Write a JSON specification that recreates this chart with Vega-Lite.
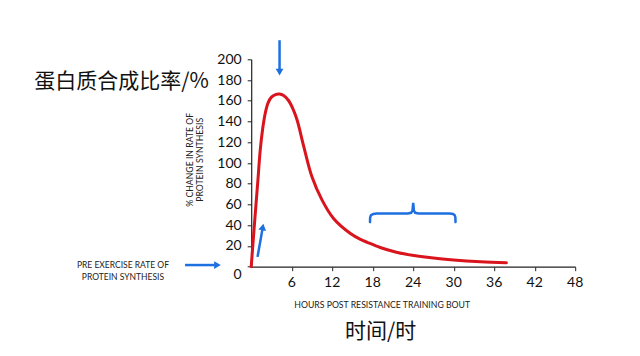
{
  "$schema": "https://vega.github.io/schema/vega-lite/v6.json",
  "width": 324,
  "height": 207.4,
  "autosize": {"type": "none"},
  "padding": {"left": 251.2, "top": 59.3, "right": 64.8, "bottom": 89.3},
  "background": "white",
  "config": {
    "view": {"stroke": null},
    "axis": {
      "grid": false,
      "domainColor": "#222",
      "tickColor": "#222",
      "labelColor": "#111",
      "labelFont": "Lato",
      "labelFontSize": 14,
      "titleFont": "Lato",
      "titleFontWeight": "normal",
      "titleColor": "#222",
      "titleFontSize": 8.7
    }
  },
  "datasets": {
    "curve": [
      {"h": 0, "v": 0}, {"h": 0.3, "v": 25.7}, {"h": 0.6, "v": 51}, {"h": 1.0, "v": 84},
      {"h": 1.33, "v": 112}, {"h": 1.7, "v": 133}, {"h": 2.08, "v": 148}, {"h": 2.5, "v": 158},
      {"h": 3.0, "v": 163.5}, {"h": 3.6, "v": 166}, {"h": 4.2, "v": 166.5}, {"h": 4.8, "v": 165},
      {"h": 5.5, "v": 160.5}, {"h": 6.2, "v": 152}, {"h": 6.8, "v": 141.4}, {"h": 7.8, "v": 115.6},
      {"h": 9.0, "v": 86.7}, {"h": 10.5, "v": 64.2}, {"h": 12.2, "v": 46.5}, {"h": 14.7, "v": 32},
      {"h": 16.2, "v": 26.3}, {"h": 17.2, "v": 23.5}, {"h": 19.1, "v": 18.5}, {"h": 21.5, "v": 14},
      {"h": 24.1, "v": 10.8}, {"h": 27, "v": 8.3}, {"h": 30, "v": 6.5}, {"h": 34, "v": 4.8},
      {"h": 37.8, "v": 3.7}
    ],
    "brace": [
      {"i": 1, "h": 17.6, "v": 43}, {"i": 2, "h": 17.62, "v": 47.5}, {"i": 3, "h": 17.75, "v": 49.7},
      {"i": 4, "h": 18.1, "v": 50.9}, {"i": 5, "h": 18.6, "v": 51.3}, {"i": 6, "h": 23.2, "v": 51.3},
      {"i": 7, "h": 23.7, "v": 52}, {"i": 8, "h": 23.9, "v": 54}, {"i": 9, "h": 24.0, "v": 61.5},
      {"i": 10, "h": 24.1, "v": 54}, {"i": 11, "h": 24.3, "v": 52}, {"i": 12, "h": 24.8, "v": 51.3},
      {"i": 13, "h": 29.4, "v": 51.3}, {"i": 14, "h": 29.9, "v": 50.9}, {"i": 15, "h": 30.15, "v": 49.7},
      {"i": 16, "h": 30.25, "v": 47.5}, {"i": 17, "h": 30.27, "v": 43}
    ],
    "shafts": [
      {"h": 4.2, "v": 218.4, "h2": 4.2, "v2": 190},
      {"h": -9.8, "v": 1.6, "h2": -5.4, "v2": 1.6},
      {"h": 0.94, "v": 9.5, "h2": 1.66, "v2": 36}
    ],
    "xlabels": [
      {"h": 6, "lab": "6"}, {"h": 12, "lab": "12"}, {"h": 18, "lab": "18"}, {"h": 24, "lab": "24"},
      {"h": 30, "lab": "30"}, {"h": 36, "lab": "36"}, {"h": 42, "lab": "42"}, {"h": 48, "lab": "48"}
    ]
  },
  "layer": [
    {
      "data": {"name": "curve"},
      "mark": {"type": "line", "color": "#d9141c", "strokeWidth": 3, "interpolate": "catmull-rom", "strokeCap": "round"},
      "encoding": {
        "x": {
          "field": "h", "type": "quantitative",
          "scale": {"domain": [0, 48], "nice": false, "zero": false},
          "axis": {
            "values": [6, 12, 18, 24, 30, 36, 42, 48],
            "tickCount": 50,
            "labels": false,
            "tickSize": 4, "domainWidth": 1.2,
            "title": "HOURS POST RESISTANCE TRAINING BOUT",
            "titleX": 130.5, "titleY": 38, "titleAlign": "center", "titleBaseline": "middle", "titleAnchor": null
          }
        },
        "y": {
          "field": "v", "type": "quantitative",
          "scale": {"domain": [0, 200], "nice": false},
          "axis": {
            "values": [0, 20, 40, 60, 80, 100, 120, 140, 160, 180, 200],
            "tickCount": 50,
            "labelOverlap": false, "labelBound": false, "labelFlush": false,
            "tickSize": 4, "labelPadding": 6, "domainWidth": 1.2,
            "labelOffset": {"condition": {"test": "datum.value === 0", "value": 8}, "value": 0},
            "title": ["% CHANGE IN RATE OF", "PROTEIN SYNTHESIS"],
            "titleX": -66, "titleY": 100, "titleAlign": "center", "titleBaseline": "top", "titleAngle": -90, "titleAnchor": null
          }
        }
      }
    },
    {
      "data": {"name": "xlabels"},
      "mark": {"type": "text", "font": "Lato", "fontSize": 14, "color": "#111", "align": "center", "baseline": "middle"},
      "encoding": {
        "x": {"field": "h", "type": "quantitative"},
        "y": {"datum": -15.4, "type": "quantitative"},
        "text": {"field": "lab"}
      }
    },
    {
      "data": {"name": "brace"},
      "mark": {"type": "line", "color": "#1e6fe0", "strokeWidth": 2.5, "strokeCap": "round"},
      "encoding": {
        "x": {"field": "h", "type": "quantitative"},
        "y": {"field": "v", "type": "quantitative"},
        "order": {"field": "i", "type": "quantitative"}
      }
    },
    {
      "data": {"name": "shafts"},
      "mark": {"type": "rule", "color": "#1e6fe0", "strokeWidth": 2.5},
      "encoding": {
        "x": {"field": "h", "type": "quantitative"},
        "y": {"field": "v", "type": "quantitative"},
        "x2": {"field": "h2"},
        "y2": {"field": "v2"}
      }
    },
    {
      "data": {"values": [{"h": 4.2, "v": 187.7}]},
      "mark": {"type": "point", "shape": "triangle-down", "filled": true, "color": "#1e6fe0", "size": 60, "opacity": 1},
      "encoding": {"x": {"field": "h", "type": "quantitative"}, "y": {"field": "v", "type": "quantitative"}}
    },
    {
      "data": {"values": [{"h": -5.0, "v": 1.6}]},
      "mark": {"type": "point", "shape": "triangle-right", "filled": true, "color": "#1e6fe0", "size": 60, "opacity": 1},
      "encoding": {"x": {"field": "h", "type": "quantitative"}, "y": {"field": "v", "type": "quantitative"}}
    },
    {
      "data": {"values": [{"h": 1.72, "v": 38.3}]},
      "mark": {"type": "point", "shape": "triangle-up", "angle": 10, "filled": true, "color": "#1e6fe0", "size": 60, "opacity": 1},
      "encoding": {"x": {"field": "h", "type": "quantitative"}, "y": {"field": "v", "type": "quantitative"}}
    },
    {
      "data": {"values": [{"h": -19, "v": 1.6, "t": "PRE EXERCISE RATE OF\nPROTEIN SYNTHESIS"}]},
      "mark": {"type": "text", "font": "Lato", "fontSize": 8.5, "color": "#222", "align": "center", "baseline": "middle", "lineBreak": "\n", "lineHeight": 12},
      "encoding": {"x": {"field": "h", "type": "quantitative"}, "y": {"field": "v", "type": "quantitative"}, "text": {"field": "t"}}
    },
    {
      "data": {"values": [{"h": -19.2, "v": 178.4, "t": "蛋白质合成比率/%"}, {"h": 19.17, "v": -62.7, "t": "时间/时"}]},
      "mark": {"type": "text", "font": "Noto Sans CJK SC", "fontSize": 21, "color": "#111", "align": "center", "baseline": "middle"},
      "encoding": {"x": {"field": "h", "type": "quantitative"}, "y": {"field": "v", "type": "quantitative"}, "text": {"field": "t"}}
    }
  ]
}
